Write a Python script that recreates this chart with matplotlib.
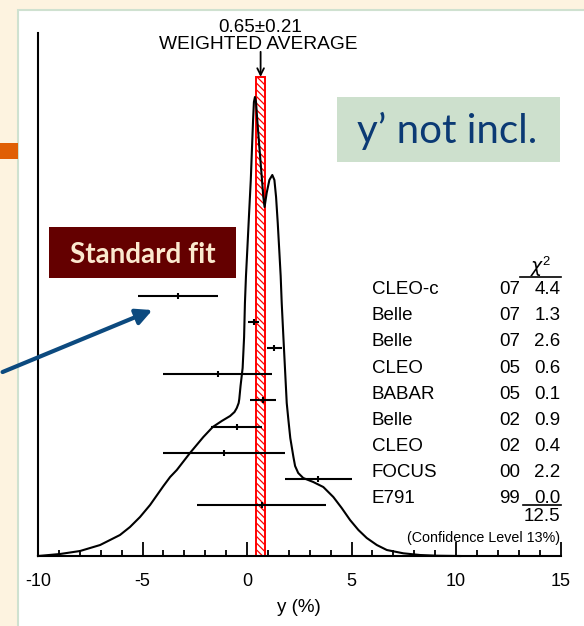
import matplotlib
matplotlib.use('Agg')
import matplotlib.pyplot as plt
from matplotlib.patches import Rectangle, FancyArrowPatch
from matplotlib.ticker import MultipleLocator

plt.rcParams['font.family'] = ['Liberation Sans', 'DejaVu Sans']
plt.rcParams['mathtext.fontset'] = 'custom'
plt.rcParams['mathtext.rm'] = 'Liberation Sans'
plt.rcParams['mathtext.it'] = 'Liberation Sans'
plt.rcParams['mathtext.default'] = 'regular'
plt.rcParams['axes.unicode_minus'] = False
plt.rcParams['hatch.linewidth'] = 0.9

# D0 mixing: y measurements (%), y' not included
experiments = ['CLEO-c', 'Belle', 'Belle', 'CLEO', 'BABAR', 'Belle', 'CLEO', 'FOCUS', 'E791']
years = ['07', '07', '07', '05', '05', '02', '02', '00', '99']
y_val = [-3.3, 0.33, 1.31, -1.4, 0.78, -0.5, -1.1, 3.42, 0.7]
y_err = [1.9, 0.26, 0.36, 2.6, 0.62, 1.2, 2.9, 1.6, 3.1]
chi2 = [4.4, 1.3, 2.6, 0.6, 0.1, 0.9, 0.4, 2.2, 0.0]
conf_level = 13

avg, avg_err = 0.65, 0.21

# ideogram curve (arbitrary units)
ideo_x = [-10.0, -8.95, -7.99, -7.03, -6.08, -5.6, -5.12, -4.64, -4.0, -3.68, -3.36,
          -2.73, -2.09, -1.64, -1.21, -0.81, -0.6, -0.49, -0.4, -0.37, -0.31, -0.21,
          -0.14, -0.10, -0.05, 0.02, 0.10, 0.18, 0.24, 0.29, 0.33, 0.38, 0.43, 0.49,
          0.59, 0.69, 0.78, 0.84, 0.94, 1.07, 1.21, 1.31, 1.39, 1.47, 1.55, 1.61,
          1.66, 1.74, 1.82, 1.90, 1.98, 2.07, 2.22, 2.30, 2.45, 2.69, 3.17, 3.65,
          4.13, 4.53, 4.93, 5.33, 5.73, 6.21, 6.69, 7.48, 8.28, 9.08, 10.2]
ideo_h = [0, 2, 5, 11, 21, 29, 39, 51, 70, 79, 86,
          103, 119, 129, 135, 140, 144, 148, 153, 157, 170, 188,
          219, 253, 280, 309, 343, 376, 409, 436, 454, 459, 454, 436,
          409, 383, 359, 349, 363, 376, 381, 376, 359, 333, 303, 280,
          253, 219, 186, 153, 136, 118, 99, 90, 83, 78, 74, 69,
          59, 48, 36, 26, 18, 11, 6, 2.7, 1, 0.3, 0]

fig = plt.figure(figsize=(5.84, 6.26), dpi=100)
fig.patch.set_facecolor('#fdf3e0')

# slide panel, side marker
fig.add_artist(Rectangle((0.031, -0.02), 1.0, 1.004, transform=fig.transFigure,
                         facecolor='white', edgecolor='#cfe1d0', lw=1.5, zorder=-10))
fig.add_artist(Rectangle((0.0, 0.746), 0.031, 0.026, transform=fig.transFigure,
                         facecolor='#e05f05', edgecolor='none', zorder=-9))

ax = fig.add_axes([0.0651, 0.1118, 0.8947, 0.8355])
ax.set_facecolor('none')
ax.set_xlim(-10, 15)
ax.set_ylim(0, max(ideo_h) * 523 / 459)

trans = ax.get_xaxis_transform()

# weighted average band
ax.add_patch(Rectangle((avg - avg_err, 0), 2 * avg_err, 0.916, transform=trans,
                       facecolor='white', edgecolor='red', hatch='\\\\\\\\\\',
                       lw=1.4, zorder=1))
ax.annotate('', xy=(avg, 0.916), xycoords=trans, xytext=(avg, 0.964), textcoords=trans,
            arrowprops=dict(arrowstyle='->', lw=1.3, color='black',
                            shrinkA=0, shrinkB=0, mutation_scale=12))
ax.text(avg, 1.011, f'{avg:.2f}\u00b1{avg_err:.2f}', transform=trans,
        ha='center', va='center', fontsize=13.5)
ax.text(avg - 0.12, 0.978, 'WEIGHTED AVERAGE', transform=trans,
        ha='center', va='center', fontsize=13.8)

ax.plot(ideo_x, ideo_h, color='black', lw=1.5, zorder=3, clip_on=False)

# measurements
row_top, row_step = 0.497, 0.0499
rows = [row_top - i * row_step for i in range(len(y_val))]
lo = [v - e for v, e in zip(y_val, y_err)]
hi = [v + e for v, e in zip(y_val, y_err)]
ax.hlines(rows, lo, hi, transform=trans, color='black', lw=1.5, zorder=4)
ax.plot(y_val, rows, '|', transform=trans, color='black', ms=5, mew=1.5, zorder=4)

for r, name, yr, c in zip(rows, experiments, years, chi2):
    ty = r + 0.012
    ax.text(0.639, ty, name, transform=ax.transAxes, ha='left', va='center', fontsize=13.5)
    ax.text(0.9225, ty, yr, transform=ax.transAxes, ha='right', va='center', fontsize=13.5)
    ax.text(1.0, ty, f'{c:.1f}', transform=ax.transAxes, ha='right', va='center', fontsize=13.5)

ax.text(0.962, 0.553, r'$\mathit{\chi}^2$', transform=ax.transAxes, ha='center', va='center',
        fontsize=13.5, math_fontfamily='dejavusans')
ax.plot([0.9225, 1.0], [0.533, 0.533], transform=ax.transAxes, color='black', lw=1.2, clip_on=False)
ax.plot([0.928, 1.0], [0.0975, 0.0975], transform=ax.transAxes, color='black', lw=1.2, clip_on=False)
ax.text(1.0, 0.0746, f'{sum(chi2):.1f}', transform=ax.transAxes, ha='right', va='center', fontsize=13.5)
ax.text(1.0, 0.0344, f'(Confidence Level {conf_level}%)', transform=ax.transAxes,
        ha='right', va='center', fontsize=10.3)

# axes styling
for s in ['top', 'right']:
    ax.spines[s].set_visible(False)
for s in ['left', 'bottom']:
    ax.spines[s].set_linewidth(1.5)
ax.set_yticks([])
ax.set_xticks(range(-10, 16, 5))
ax.xaxis.set_minor_locator(MultipleLocator(1))
ax.tick_params(axis='x', which='major', direction='in', length=10, width=1.3,
               labelsize=13, pad=12)
ax.tick_params(axis='x', which='minor', direction='in', length=4.5, width=1.3)
ax.set_xlabel('y (%)', fontsize=13.5, labelpad=7)

# slide annotations
fig.add_artist(Rectangle((0.0839, 0.5559), 0.3202, 0.0815, transform=fig.transFigure,
                         facecolor='#640000', edgecolor='none', zorder=5))
fig.text(0.245, 0.5799, 'Standard fit', family='Lato', weight='bold', fontsize=20,
         color='#fbe9cf', ha='center', va='baseline', zorder=6)
fig.add_artist(Rectangle((0.577, 0.7412), 0.3818, 0.1038, transform=fig.transFigure,
                         facecolor='#cde0cd', edgecolor='none', zorder=5))
fig.text(0.7654, 0.7716, 'y\u2019 not incl.', family='Lato', fontsize=29,
         color='#0b3a74', ha='center', va='baseline', zorder=6)
fig.add_artist(FancyArrowPatch((0.0, 0.404), (0.2654, 0.5064), transform=fig.transFigure,
                               arrowstyle='-|>', mutation_scale=24, lw=3,
                               color='#0c4a7f', zorder=7))

fig.savefig('out.png', dpi=100, facecolor=fig.get_facecolor())
